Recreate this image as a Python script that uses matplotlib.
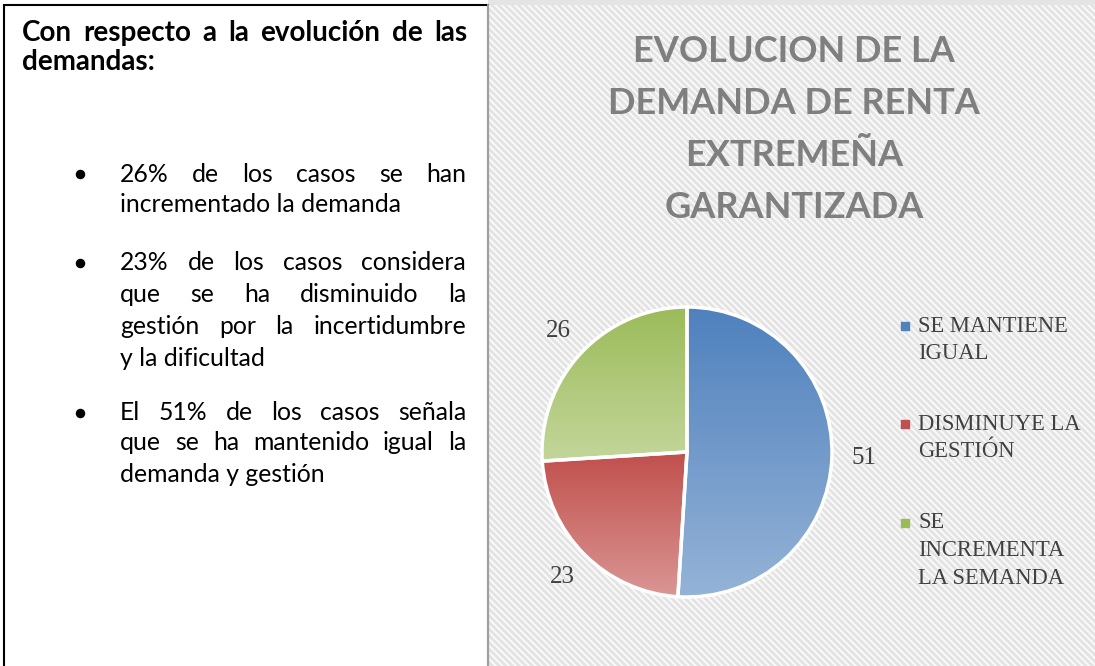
import numpy as np
import matplotlib.pyplot as plt
from matplotlib.patches import Rectangle
from matplotlib.colors import LinearSegmentedColormap

# chart data
categories = ["SE MANTIENE\nIGUAL", "DISMINUYE LA\nGESTIÓN", "SE\nINCREMENTA\nLA SEMANDA"]
values = [51, 23, 26]
top_colors = ["#4F81BD", "#C0504D", "#9BBB59"]
bottom_colors = ["#95B3D7", "#DA9694", "#C3D69B"]
title_lines = ["EVOLUCION DE LA", "DEMANDA DE RENTA", "EXTREMEÑA", "GARANTIZADA"]

# left text box
heading = ["Con respecto a la evolución de las", "demandas:"]
bullets = [
    ["26% de los casos se han", "incrementado la demanda"],
    ["23% de los casos considera", "que se ha disminuido la",
     "gestión por la incertidumbre", "y la dificultad"],
    ["El 51% de los casos señala", "que se ha mantenido igual la",
     "demanda y gestión"],
]
bullet_rows = [[174, 204], [263, 295, 327, 358], [413, 443, 474]]

W, H = 1095, 666
fig = plt.figure(figsize=(W / 100, H / 100), dpi=100)
bg = fig.add_axes([0, 0, 1, 1])
bg.set_xlim(0, W)
bg.set_ylim(H, 0)
bg.axis("off")

# right panel with diagonal stripes
plt.rcParams["hatch.linewidth"] = 2.0
bg.add_patch(Rectangle((488, 0), W - 488, 5, facecolor="#E4E4E4", lw=0))
bg.add_patch(Rectangle((488, 5), W - 488, H, facecolor="#FAFAFA",
                       edgecolor="#E3E3E3", lw=0, hatch="\\" * 5))
bg.plot([488, 488], [5, H], color="#BFBFBF", lw=1.2)
# left white box
bg.add_patch(Rectangle((4, 5), 484, H + 10, facecolor="white",
                       edgecolor="black", lw=1.5))

renderer = fig.canvas.get_renderer()


def put_line(line, x0, x1, y, justify, **kw):
    words = line.split()
    if not justify or len(words) == 1:
        bg.text(x0, y, line, ha="left", va="center", **kw)
        return
    ts = [bg.text(0, y, w, ha="left", va="center", **kw) for w in words]
    widths = [t.get_window_extent(renderer).width for t in ts]
    gap = (x1 - x0 - sum(widths)) / (len(words) - 1)
    x = x0
    for t, w in zip(ts, widths):
        t.set_x(x)
        x += w + gap


body = dict(family="Lato", fontsize=17.8, color="black")
for i, line in enumerate(heading):
    put_line(line, 22, 467, [33, 62][i], i < len(heading) - 1,
             family="Lato", fontsize=20, fontweight="bold", color="black")

for lines, rows in zip(bullets, bullet_rows):
    bg.scatter([80], [rows[0]], s=34, color="black", marker="o")
    for i, (line, y) in enumerate(zip(lines, rows)):
        put_line(line, 120, 466, y, i < len(lines) - 1, **body)

# title
for line, y in zip(title_lines, [52, 104, 156, 208]):
    bg.text(794, y, line, ha="center", va="center", family="Lato",
            fontweight="bold", fontsize=26, color="#7F7F7F")

# pie
cx, cy, r = 687, 452, 145
half = 152
pax = fig.add_axes([(cx - half) / W, (H - cy - half) / H, 2 * half / W, 2 * half / H])
wedges, texts = pax.pie(values, labels=[str(v) for v in values], startangle=90,
                        counterclock=False, labeldistance=1.22,
                        wedgeprops=dict(edgecolor="white", linewidth=2.5))
for w, c0, c1 in zip(wedges, top_colors, bottom_colors):
    bb = w.get_path().get_extents()
    cmap = LinearSegmentedColormap.from_list("g", [c0, c1])
    im = pax.imshow(np.linspace(0, 1, 256).reshape(-1, 1), cmap=cmap,
                    extent=(bb.x0, bb.x1, bb.y0, bb.y1), origin="upper",
                    aspect="auto", zorder=1)
    im.set_clip_path(w)
    w.set_facecolor("none")
    w.set_zorder(2)
for t in texts:
    t.set_ha("center")
    t.set_va("center")
    t.set_family("Liberation Serif")
    t.set_fontsize(18)
    t.set_color("#404040")
pax.set_xlim(-half / r, half / r)
pax.set_ylim(-half / r, half / r)
pax.set_aspect("equal")
pax.axis("off")

# legend
for lab, c, y in zip(categories, top_colors, [326, 424, 523]):
    bg.scatter([905], [y], s=34, marker="s", color=c)
    for j, part in enumerate(lab.split("\n")):
        bg.text(918, y + j * 27.5, part, ha="left", va="center",
                family="Liberation Serif", fontsize=16.3, color="#404040")

fig.savefig("out.png", dpi=100)
